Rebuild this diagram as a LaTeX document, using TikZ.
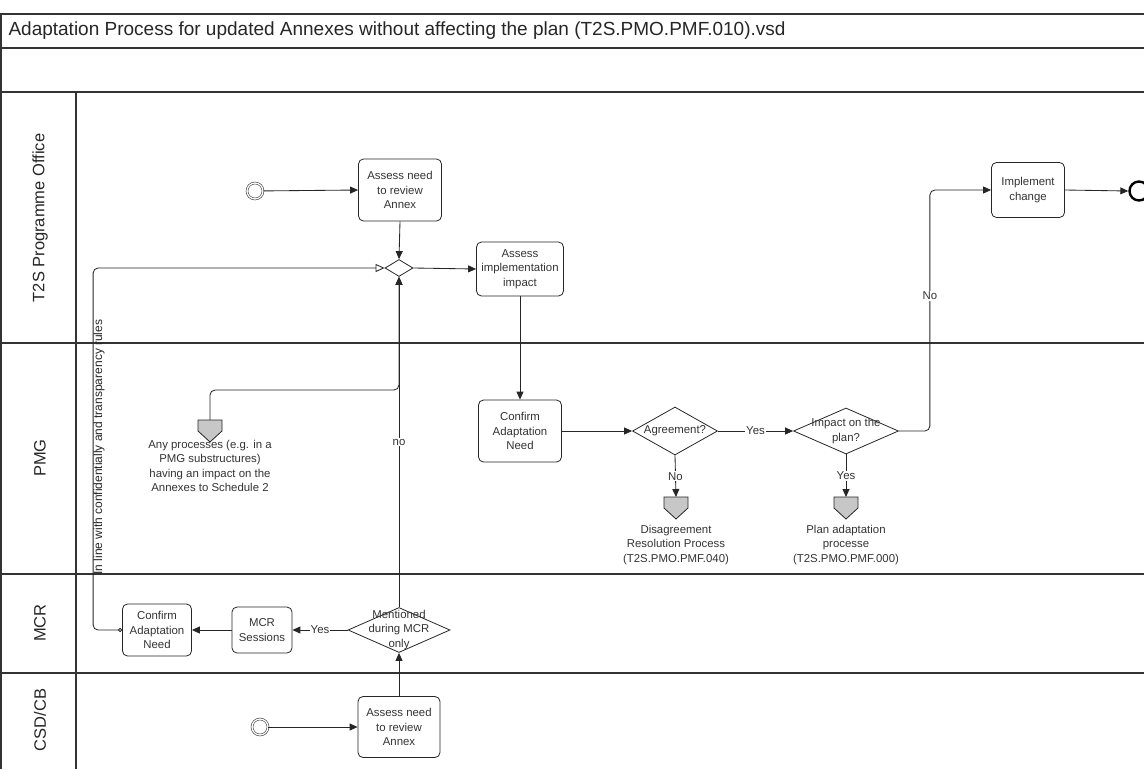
\documentclass[tikz,border=0pt]{standalone}
\usepackage{fontspec}
\setmainfont{Liberation Sans}
\usetikzlibrary{shapes.geometric,arrows.meta}
\begin{document}
\begin{tikzpicture}[x=1pt,y=-1pt,
 frame/.style={line width=1.2pt, draw=black!80},
 task/.style={draw=black!85, rounded corners=5pt, line width=0.8pt, align=center, inner sep=1pt, font=\fontsize{11.4}{14.5}\selectfont, text=black!80},
 gwshape/.style={diamond, draw=black!85, line width=0.8pt, inner sep=0pt},
 lbl/.style={font=\fontsize{11.4}{14.5}\selectfont, text=black!80, align=center},
 flow/.style={draw=black!85, line width=0.85pt, -{Triangle[length=8pt,width=7pt]}},
 startev/.style={circle, draw=black!75, double, double distance=1.3pt, line width=0.6pt, minimum size=16pt, inner sep=0pt},
 lane/.style={font=\fontsize{16.5}{19}\selectfont, rotate=90, text=black!85},
 offpg/.pic={\draw[draw=black!85, fill=black!22, line width=0.8pt] (-12,0) -- (12,0) -- (12,11) -- (0,22) -- (-12,11) -- cycle; \coordinate (-top) at (0,0);},
]
\useasboundingbox (0,0) rectangle (1144,769);
% frame
\draw[frame] (1,769) -- (1,14) -- (1144,14);
\draw[frame] (0,48) -- (1144,48);
\draw[frame] (0,92) -- (1144,92);
\draw[frame] (0,343) -- (1144,343);
\draw[frame] (0,574) -- (1144,574);
\draw[frame] (0,673) -- (1144,673);
\draw[frame] (76,92) -- (76,769);
\node[anchor=west, font=\fontsize{19}{22}\selectfont, text=black!85] (title) at (5,31) {Adaptation Process for updated Annexes without affecting the plan (T2S.PMO.PMF.010).vsd};
% lane labels
\node[lane] (l1) at (40,218) {T2S Programme Office};
\node[lane] (l2) at (40,458) {PMG};
\node[lane] (l3) at (40,623) {MCR};
\node[lane] (l4) at (40,720) {CSD/CB};
% nodes
\node[startev] (s1) at (255,191) {};
\node[task, minimum width=83pt, minimum height=62pt] (a1) at (400,190) {Assess need\\to review\\Annex};
\node[gwshape, minimum width=28pt, minimum height=17pt] (gw) at (399,268) {};
\node[task, minimum width=87pt, minimum height=54pt] (ai) at (520,269) {Assess\\implementation\\impact};
\node[task, minimum width=83pt, minimum height=62pt] (cp) at (520,431) {Confirm\\Adaptation\\Need};
\node[gwshape, minimum width=85pt, minimum height=48pt] (ag) at (675,431) {};
\node[lbl] (agt) at (675,431) {Agreement?};
\node[gwshape, minimum width=105pt, minimum height=46pt] (im) at (846,431) {};
\node[lbl] (imt) at (846,431) {Impact on the\\plan?};
\node[task, minimum width=73pt, minimum height=55pt] (ic) at (1028,190) {Implement\\change};
\node[circle, draw=black, line width=2.4pt, minimum size=19pt, inner sep=0pt] (end) at (1139,191) {};
\pic (pa) at (210,420) {offpg};
\node[lbl] (pat) at (210,466) {Any processes (e.g. in a\\PMG substructures)\\having an impact on the\\Annexes to Schedule 2};
\pic (pd) at (676,497) {offpg};
\node[lbl] (pdt) at (676,545) {Disagreement\\Resolution Process\\(T2S.PMO.PMF.040)};
\pic (pp) at (846,497) {offpg};
\node[lbl] (ppt) at (846,545) {Plan adaptation\\processe\\(T2S.PMO.PMF.000)};
\node[gwshape, minimum width=102pt, minimum height=45pt] (mn) at (399,630) {};
\node[lbl] (mnt) at (399,630) {Mentioned\\during MCR\\only};
\node[task, minimum width=60pt, minimum height=46pt] (ms) at (262,630) {MCR\\Sessions};
\node[task, minimum width=69pt, minimum height=52pt] (cm) at (157,630) {Confirm\\Adaptation\\Need};
\node[startev] (s2) at (260,727) {};
\node[task, minimum width=82pt, minimum height=61pt] (a2) at (399,727) {Assess need\\to review\\Annex};
% connectors
\draw[flow] (s1) -- (a1.west);
\draw[flow] (a1.south) -- (gw.north);
\draw[flow] (gw.east) -- (ai.west);
\draw[flow] (ai.south) -- (cp.north);
\draw[flow] (cp.east) -- (ag.west);
\draw[flow] (ag.east) -- node[lbl, fill=white, inner sep=1pt] {Yes} (im.west);
\draw[flow] (ag.south) -- node[lbl, fill=white, inner sep=1pt] {No} (pd-top);
\draw[flow] (im.south) -- node[lbl, fill=white, inner sep=1pt] {Yes} (pp-top);
\draw[flow, rounded corners=5pt] (im.east) -- ++(31,0) |- node[pos=0.28, lbl, fill=white, inner sep=1pt] {No} (ic.west);
\draw[flow] (ic.east) -- (end.west);
\draw[flow] (mn.west) -- node[lbl, fill=white, inner sep=1pt] {Yes} (ms.east);
\draw[flow] (ms.west) -- (cm.east);
\draw[draw=black!85, line width=0.85pt, rounded corners=5pt, {Circle[open,length=4pt]}-{Triangle[open,length=9pt,width=8pt]}] (cm.west) -- ++(-29,0) |- (gw.west);
\node[font=\fontsize{12}{14}\selectfont, rotate=90, text=black!85, inner sep=0pt] (rule) at (99,447) {In line with confidentially and transparency rules};
\draw[flow] (mn.north) -- node[lbl, fill=white, inner sep=1pt] {no} (gw.south);
\draw[flow, rounded corners=5pt] (pa-top) -- ++(0,-30) -| (gw.south);
\draw[flow] (s2) -- (a2.west);
\draw[flow] (a2.north) -- (mn.south);
\end{tikzpicture}
\end{document}
